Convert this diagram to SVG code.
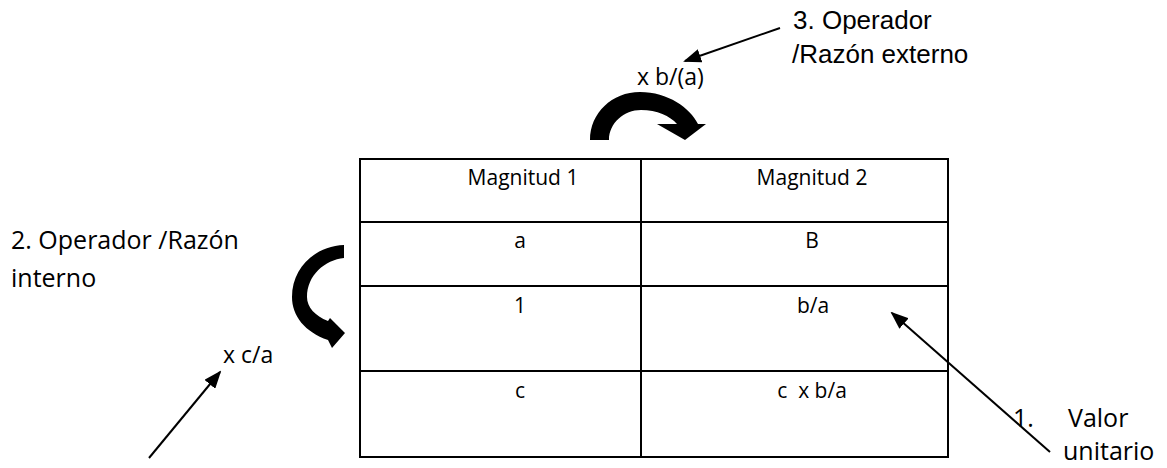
<svg xmlns="http://www.w3.org/2000/svg" width="1167" height="468" viewBox="0 0 1167 468">
  <style>
    .cell { font-family: "Open Sans", "Liberation Sans", sans-serif; font-size: 21px; fill: #000; text-anchor: middle; }
    .lbl { font-family: "Open Sans", "Liberation Sans", sans-serif; font-size: 25px; fill: #000; }
    .op { font-family: "Open Sans", "Liberation Sans", sans-serif; font-size: 23px; fill: #000; }
    .arial { font-family: "Liberation Sans", Arial, sans-serif; font-size: 26px; fill: #000; }
    .grid { stroke: #000; stroke-width: 2; fill: none; }
    .conn { stroke: #000; stroke-width: 2; fill: none; marker-end: url(#ah); }
    .bend { fill: #000; stroke: none; }
  </style>
  <defs>
    <marker id="ah" markerUnits="userSpaceOnUse" markerWidth="18" markerHeight="14" refX="16" refY="7" orient="auto">
      <path d="M0,0 L18,7 L0,14 Z" fill="#000"/>
    </marker>
  </defs>
  <rect width="1167" height="468" fill="#fff"/>

  <g id="table">
    <rect class="grid" x="360" y="159" width="588" height="298"/>
    <line class="grid" x1="641" y1="159" x2="641" y2="457"/>
    <line class="grid" x1="360" y1="222" x2="948" y2="222"/>
    <line class="grid" x1="360" y1="286" x2="948" y2="286"/>
    <line class="grid" x1="360" y1="371" x2="948" y2="371"/>
    <text class="cell" x="523" y="185">Magnitud 1</text>
    <text class="cell" x="812" y="185">Magnitud 2</text>
    <text class="cell" x="520" y="248">a</text>
    <text class="cell" x="812" y="248">B</text>
    <text class="cell" x="520" y="313">1</text>
    <text class="cell" x="813" y="313">b/a</text>
    <text class="cell" x="520" y="398">c</text>
    <text class="cell" x="812" y="398" xml:space="preserve">c  x b/a</text>
  </g>

  <g id="label-externo">
    <text class="arial" x="793" y="29">3. Operador</text>
    <text class="arial" x="792" y="63">/Razón externo</text>
  </g>
  <g id="label-interno">
    <text class="lbl" x="11" y="249">2. Operador /Razón</text>
    <text class="lbl" x="11" y="287">interno</text>
  </g>
  <g id="label-unitario">
    <text class="lbl" x="1013" y="427">1.</text>
    <text class="lbl" x="1068" y="427">Valor</text>
    <text class="lbl" x="1063" y="460">unitario</text>
  </g>
  <g id="op-externo">
    <text class="op" x="637" y="85">x b/(a)</text>
    <path class="bend" d="M590,140 C590,113 612,92 640,92 C668,92 690,108 698,124 L706,124 L685,140 L657,124 L677,124 C670,116 657,110 641,110 C624,110 609,123 609,140 Z"/>
  </g>
  <g id="op-interno">
    <text class="op" x="223" y="363">x c/a</text>
    <path class="bend" d="M344,245 L344,258 C325,260 307,275 307,297 C307,307 315,316 328,321 L330,318 L345,333 L332,348 L328,340 C305,332 292,316 292,297 C292,268 315,246 344,245 Z"/>
  </g>

  <g id="connectors">
    <line class="conn" x1="780" y1="28" x2="685" y2="61"/>
    <line class="conn" x1="149" y1="458" x2="220" y2="372"/>
    <line class="conn" x1="1050" y1="452" x2="892" y2="313"/>
  </g>
</svg>
